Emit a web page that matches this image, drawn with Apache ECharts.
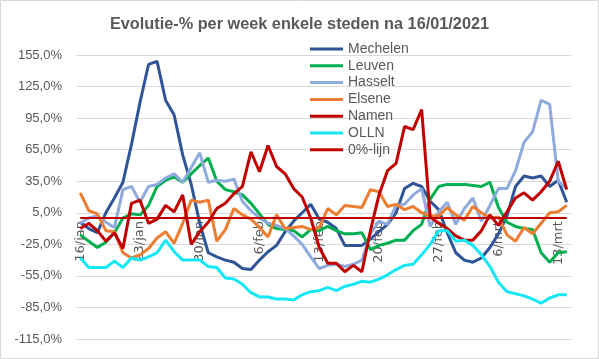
<!DOCTYPE html>
<html><head><meta charset="utf-8">
<script src="https://cdn.jsdelivr.net/npm/echarts@6/dist/echarts.min.js"></script>
<style>html,body{margin:0;padding:0;background:#fff}#c{width:599px;height:359px}</style>
</head><body><div id="c"></div>
<script>
const categories = ['16/jan','17/jan','18/jan','19/jan','20/jan','21/jan','22/jan','23/jan','24/jan','25/jan','26/jan','27/jan','28/jan','29/jan','30/jan','31/jan',
'1/feb','2/feb','3/feb','4/feb','5/feb','6/feb','7/feb','8/feb','9/feb','10/feb','11/feb','12/feb','13/feb','14/feb','15/feb','16/feb','17/feb','18/feb','19/feb','20/feb','21/feb','22/feb','23/feb','24/feb','25/feb','26/feb','27/feb','28/feb',
'1/mrt','2/mrt','3/mrt','4/mrt','5/mrt','6/mrt','7/mrt','8/mrt','9/mrt','10/mrt','11/mrt','12/mrt','13/mrt','14/mrt'];
const mechelen = [-4,-10,-14,5,19,34,70,110,146,149,112,98,60,32,-5,-33,-37,-40,-42,-48,-49,-40,-32,-26,-13,-3,5,13,-1,-4,-10,-26,-26,-26,-20,-13,-6,5,28,33,30,16,8,-14,-33,-40,-42,-38,-28,-15,2,30,40,38,40,30,36,15];
const leuven = [-16,-22,-28,-23,-14,0,4,3,12,30,36,39,34,42,50,57,35,27,25,22,14,4,-6,-10,-11,-12,-18,-11,-12,-8,-12,-15,-15,-14,-30,-26,-24,-21,-21,-12,-6,18,30,32,32,32,31,30,34,10,-4,-8,-10,-11,-33,-42,-33,-32];
const hasselt = [-5,0,2,-4,-9,27,30,15,30,32,38,42,34,48,62,34,36,35,37,16,7,0,-5,-7,-10,-17,-25,-37,-48,-45,-44,-46,-44,-40,-15,-3,-6,12,13,22,28,-8,6,15,-6,9,19,-3,12,28,28,45,72,82,112,108,35,28];
const elsene = [24,7,4,-12,-13,-33,-38,-35,-29,-19,-13,-24,-5,17,15,17,-22,-11,9,3,-1,-9,-18,3,-10,-9,-8,-11,-9,9,3,12,11,10,27,25,11,13,8,11,5,2,2,10,3,-2,11,5,0,1,-16,-22,-9,-15,-5,5,6,12];
const namen = [-10,-5,-12,-22,-14,-29,14,17,-5,-1,12,6,22,-25,-13,-4,9,14,23,30,63,44,69,49,42,28,20,0,-28,-43,-43,-51,-45,-51,-12,22,45,52,87,84,103,1,-5,-10,-17,-21,-21,-12,3,-7,6,19,24,17,25,35,54,27];
const olln = [-38,-47,-47,-47,-41,-47,-38,-40,-37,-33,-21,-32,-40,-40,-40,-46,-47,-57,-58,-63,-71,-75,-75,-77,-77,-78,-73,-70,-69,-66,-69,-65,-63,-60,-61,-58,-54,-49,-45,-44,-35,-25,-12,-12,-22,-21,-26,-35,-46,-61,-70,-72,-74,-77,-81,-76,-73,-73];
const nulLijn = [0,0,0,0,0,0,0,0,0,0,0,0,0,0,0,0,0,0,0,0,0,0,0,0,0,0,0,0,0,0,0,0,0,0,0,0,0,0,0,0,0,0,0,0,0,0,0,0,0,0,0,0,0,0,0,0,0,0];
const seriesNames = ['Mechelen','Leuven','Hasselt','Elsene','Namen','OLLN','0%-lijn'];
const seriesData = [mechelen, leuven, hasselt, elsene, namen, olln, nulLijn];
const colors = ['#2F5597','#00B050','#8FAADC','#ED7D31','#C00000','#14E8F7','#C00000'];
const widths = [3,3,3,3,3,3,2];
const yMin = -115, yMax = 155;

const chart = echarts.init(document.getElementById('c'), null, {renderer:'canvas'});
const gridTop = 55, gridBottom = 20, H = 359;
const plotH = H - gridTop - gridBottom;
const zeroOffset = -plotH * (0 - yMin) / (yMax - yMin);
chart.setOption({
  animation:false,
  backgroundColor:'#fff',
  graphic:[{type:'rect', shape:{x:0.5,y:0.5,width:598,height:358}, style:{fill:'none', stroke:'#D9D9D9', lineWidth:1}, silent:true}],
  title:{text:'Evolutie-% per week enkele steden na 16/01/2021', left:'center', top:12,
    textStyle:{fontFamily:'Liberation Sans', fontSize:16.3, fontWeight:'bold', color:'#595959'}},
  legend:{orient:'vertical', left:310, top:42, padding:0, itemWidth:33, itemHeight:3, itemGap:2.8,
    icon:'rect',
    data:seriesNames,
    textStyle:{fontFamily:'Liberation Sans', fontSize:14, lineHeight:14, color:'#595959'}},
  grid:{left:76, right:28, top:gridTop, bottom:gridBottom, containLabel:false, outerBoundsMode:'none'},
  xAxis:{type:'category', data:categories, boundaryGap:true, offset:zeroOffset,
    axisLine:{show:false, onZero:false},
    axisTick:{show:false},
    axisLabel:{interval:6, rotate:90, color:'#595959', fontFamily:'DejaVu Sans', fontSize:13, margin:3},
    splitLine:{show:false}},
  yAxis:{type:'value', min:yMin, max:yMax, interval:30,
    axisLine:{show:false}, axisTick:{show:false},
    splitLine:{lineStyle:{color:'#D9D9D9', width:1}},
    axisLabel:{color:'#595959', fontFamily:'Liberation Sans', fontSize:13, margin:14,
      formatter:function(v){return v.toFixed(1).replace('.',',')+'%';}}},
  series: seriesNames.map(function(n,i){return {
    name:n, type:'line', data:seriesData[i], symbol:'none', showSymbol:false, smooth:false,
    color:colors[i], lineStyle:{color:colors[i], width:widths[i]}, emphasis:{disabled:true}
  };})
});
</script></body></html>
